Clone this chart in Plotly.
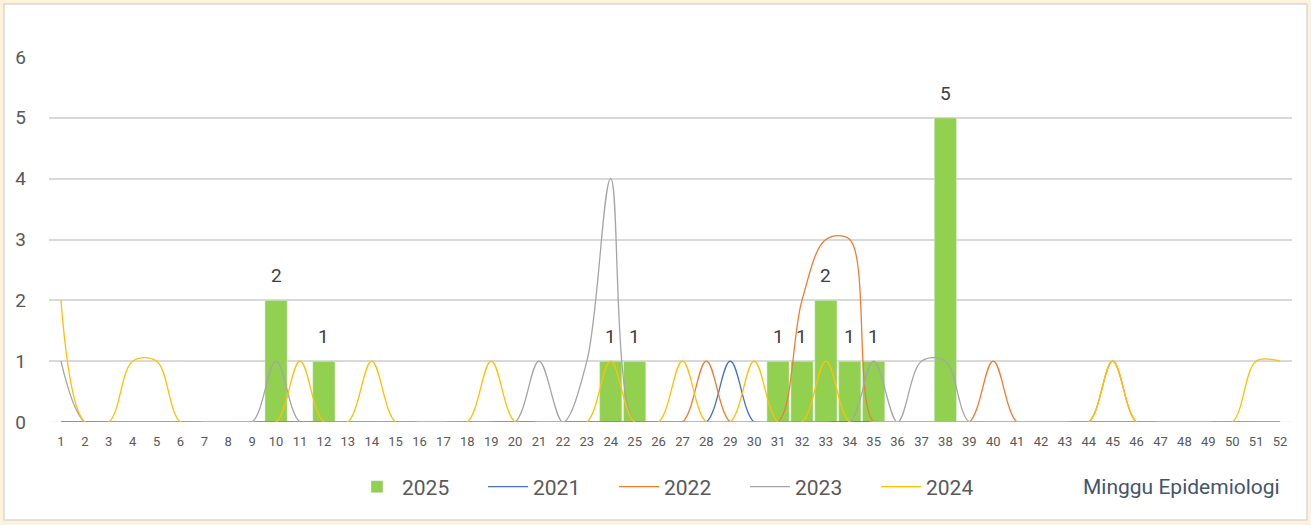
import plotly.graph_objects as go

weeks = [str(w) for w in range(1, 53)]

def series(points):
    vals = [0] * 52
    for w, v in points.items():
        vals[w - 1] = v
    return vals

cases_2025 = series({10: 2, 12: 1, 24: 1, 25: 1, 31: 1, 32: 1, 33: 2, 34: 1, 35: 1, 38: 5})
cases_2021 = series({29: 1})
cases_2022 = series({28: 1, 32: 2, 33: 3, 34: 3, 40: 1, 45: 1})
cases_2023 = series({1: 1, 10: 1, 21: 1, 23: 1, 24: 4, 35: 1, 37: 1, 38: 1})
cases_2024 = series({1: 2, 4: 1, 5: 1, 11: 1, 14: 1, 19: 1, 24: 1, 27: 1, 30: 1, 33: 1, 45: 1, 51: 1, 52: 1})

W, H = 1311, 525
ml, mr, mt, mb = 49, 19, 57, 103
pw, ph = W - ml - mr, H - mt - mb

def px(x):
    return (x - ml) / pw

def py(y):
    return (H - mb - y) / ph

fig = go.Figure()
fig.add_trace(go.Bar(
    x=weeks, y=cases_2025, name="2025", marker_color="#92D050",
))
for name, vals, col in [("2021", cases_2021, "#4472C4"), ("2022", cases_2022, "#ED7D31"),
                        ("2023", cases_2023, "#A5A5A5"), ("2024", cases_2024, "#FFC000")]:
    fig.add_trace(go.Scatter(
        x=weeks, y=vals, name=name, mode="lines",
        line=dict(color=col, width=1.3, shape="spline", smoothing=1.0),
    ))

# data labels (category index positions)
for i, v in enumerate(cases_2025):
    if v:
        fig.add_annotation(x=i, y=v, xref="x", yref="y", text=str(v), showarrow=False,
                           yanchor="bottom", yshift=11, font=dict(size=19, color="#404040"))

fig.add_shape(type="rect", xref="paper", yref="paper", layer="below",
              x0=px(4), x1=px(1307), y0=py(520), y1=py(4),
              fillcolor="white", line=dict(color="#D9D9D9", width=1.5))

fig.add_annotation(text="Minggu Epidemiologi", xref="paper", yref="paper",
                   x=px(1181), y=py(487), showarrow=False, xanchor="center", yanchor="middle",
                   font=dict(size=21, color="#44546A"))

fig.update_layout(
    width=W, height=H, margin=dict(l=ml, r=mr, t=mt, b=mb),
    paper_bgcolor="#FEF3DA", plot_bgcolor="rgba(0,0,0,0)",
    font=dict(family="Roboto", color="#595959"),
    bargap=0.07,
    showlegend=True,
    legend=dict(orientation="h", x=px(352), xanchor="left", y=py(487), yanchor="middle",
                font=dict(size=21, color="#595959"), bgcolor="rgba(0,0,0,0)",
                itemwidth=40, entrywidth=76, entrywidthmode="pixels", tracegroupgap=0),
    xaxis=dict(type="category", showgrid=False, tickfont=dict(size=13, color="#595959"),
               ticks="", showline=False, zeroline=False, ticklabelstandoff=10),
    yaxis=dict(range=[0, 6], dtick=1, showgrid=True, gridcolor="#D9D9D9", gridwidth=1.5,
               tickfont=dict(size=19, color="#595959"), zeroline=False, ticks="",
               ticklabelstandoff=22),
)

fig.write_html("out.html", config={"displayModeBar": False},
               post_script="document.body.style.margin='0';document.body.style.padding='0';")
